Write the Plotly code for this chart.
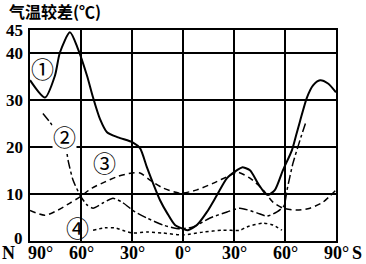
import plotly.graph_objects as go

# latitude: negative = North, positive = South
lat1 = [-90, -81.2, -75.3, -72.4, -66.5, -61.8, -56.5, -52.9, -48.8, -44.7, -38.2, -29.4, -25.3, -21.2,
        -17.6, -13.5, -9.4, -4.7, 0, 2.9, 8.2, 14.1, 20, 25.9, 31.8, 34.7, 39.4, 44.1, 48.2, 50, 54.1,
        58.8, 64.1, 66.5, 68.8, 72.9, 76.5, 80.6, 85.3, 90]
val1 = [34.3, 30.6, 35.3, 40.2, 44.5, 41, 35.3, 30.6, 26, 23.2, 22.1, 21, 19.8, 15.7,
        12.3, 8.7, 6, 3.4, 2.6, 2.3, 3.4, 6.2, 9.8, 13.4, 15.1, 15.7, 15.1, 12.3, 10.2, 9.8, 10.9,
        15.1, 19.4, 22.5, 25.5, 30.6, 33.2, 34.3, 33.6, 31.7]

lat2 = [-82.4, -78.2, -69.4, -67.6, -64.7, -60.6, -56.5, -52.9, -47.1, -41.2, -35.9, -28.2, -21.2,
        -11.8, -1.8, 5.9, 15.9, 25.9, 33.5, 43.5, 49.4, 55.3, 59.4, 61.2, 64.7, 68.8, 72.4]
val2 = [27.2, 25.3, 20.8, 17.2, 13, 9.8, 7.7, 7, 8.1, 9.1, 8.3, 6.2, 4.9,
        3.4, 2.6, 3, 4.9, 6.2, 7, 6, 5.3, 6.2, 7.5, 10.9, 16.6, 21.5, 25.5]

lat3 = [-90, -81.2, -73.5, -66.5, -60.6, -53.5, -45.9, -38.2, -30, -25.3, -19.4, -11.8, -1.8, 8.2,
        17.6, 27.6, 31.8, 39.4, 47.1, 52.9, 58.8, 67.1, 74.7, 82.4, 90]
val3 = [6.5, 5.5, 6.6, 8.1, 9.4, 11.3, 12.6, 13.8, 14.5, 14.5, 13, 11.3, 10.2, 10.9,
        12.3, 14, 14.7, 13.4, 10.9, 8.3, 7, 6.6, 7, 8.3, 10.9]

lat4 = [-52.9, -45.9, -40, -34.1, -29.4, -21.2, -11.8, 0, 11.8, 23.5, 33.5, 37.6, 47.1, 52.9, 58.2]
val4 = [2.3, 2.8, 2.8, 2.1, 1.7, 1.9, 1.7, 1.3, 1.9, 2.3, 2.3, 3, 3.8, 3.4, 2.3]

x_ticks = [-90, -60, -30, 0, 30, 60, 90]
x_labels = ["90°", "60°", "30°", "0°", "30°", "60°", "90°"]
y_ticks = [0, 10, 20, 30, 40, 45]
y_labels = ["0", "10", "20", "30", "40", "45"]

curve_labels = ["①", "②", "③", "④"]
label_lat = [-82.9, -69.8, -45.9, -61.8]
label_val = [36.8, 22.4, 16.8, 3.0]

fig = go.Figure()
fig.add_trace(go.Scatter(x=lat1, y=val1, mode="lines",
                         line=dict(color="black", width=2, shape="spline", smoothing=0.7)))
fig.add_trace(go.Scatter(x=lat2, y=val2, mode="lines",
                         line=dict(color="black", width=1.5, dash="dashdot", shape="spline", smoothing=0.6)))
fig.add_trace(go.Scatter(x=lat3, y=val3, mode="lines",
                         line=dict(color="black", width=1.5, dash="6px,4px", shape="spline", smoothing=0.7)))
fig.add_trace(go.Scatter(x=lat4, y=val4, mode="lines",
                         line=dict(color="black", width=1.5, dash="dot", shape="spline", smoothing=0.7)))

serif = "Liberation Serif"
xl_font = dict(family=serif, size=18, color="black", weight="bold")
yl_font = dict(family=serif, size=17, color="black", weight="bold")
ann = []
for xv, lab in zip(x_ticks, x_labels):
    shift = 10 if xv == -90 else 0
    ann.append(dict(x=xv, y=0, xref="x", yref="y", text=lab, showarrow=False, borderpad=0,
                    xanchor="center", yanchor="top", yshift=-1, xshift=shift, font=xl_font))
ann.append(dict(x=-90, y=0, xref="x", yref="y", text="N", showarrow=False, borderpad=0,
                xanchor="right", yanchor="top", yshift=-1, xshift=-14, font=xl_font))
ann.append(dict(x=90, y=0, xref="x", yref="y", text="S", showarrow=False, borderpad=0,
                xanchor="left", yanchor="top", yshift=-1, xshift=15, font=xl_font))
for yv, lab in zip(y_ticks, y_labels):
    ann.append(dict(x=-90, y=yv, xref="x", yref="y", text=lab, showarrow=False,
                    xanchor="right", yanchor="middle", xshift=-5, yshift=3 if yv == 0 else 0,
                    font=yl_font))
for t, lx, ly in zip(curve_labels, label_lat, label_val):
    ann.append(dict(x=lx, y=ly, xref="x", yref="y", text=t, showarrow=False,
                    bgcolor="white" if t == "②" else None, borderpad=0,
                    font=dict(family="Noto Sans CJK SC", size=23, color="black")))
ann.append(dict(x=0, y=1, xref="paper", yref="paper", text="气温较差(℃)", showarrow=False,
                xanchor="left", yanchor="bottom", xshift=-23, yshift=5,
                font=dict(family="Noto Sans CJK SC", size=16, color="black", weight="bold")))

fig.update_layout(
    width=366, height=264, margin=dict(l=30, r=30, t=30, b=23),
    paper_bgcolor="white", plot_bgcolor="white", showlegend=False,
    annotations=ann,
    xaxis=dict(range=[-90, 90], tickvals=x_ticks, showticklabels=False, ticks="",
               showgrid=True, gridcolor="black", gridwidth=2, zeroline=False,
               showline=True, linecolor="black", linewidth=2, mirror=True),
    yaxis=dict(range=[0, 45], tickvals=y_ticks, showticklabels=False, ticks="",
               showgrid=True, gridcolor="black", gridwidth=2, zeroline=False,
               showline=True, linecolor="black", linewidth=2, mirror=True),
)
fig.write_html("out.html")
